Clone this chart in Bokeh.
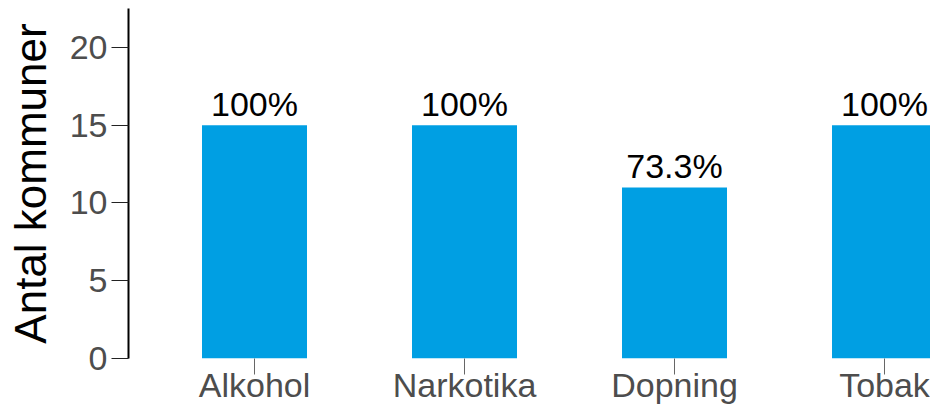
from bokeh.plotting import figure
from bokeh.models import ColumnDataSource, Range1d, FixedTicker
from bokeh.core.properties import value
from bokeh.embed import file_html
from bokeh.resources import INLINE

categories = ["Alkohol", "Narkotika", "Dopning", "Tobak"]
counts = [15, 15, 11, 15]
pct_labels = ["100%", "100%", "73.3%", "100%"]
y_ticks = [0, 5, 10, 15, 20]

xs = list(range(len(categories)))
src = ColumnDataSource(dict(x=xs, top=counts, label=pct_labels))

FONT = "Liberation Sans"

p = figure(width=930, height=406, output_backend="svg", toolbar_location=None,
           x_range=Range1d(-0.6, 3.219), y_range=Range1d(0, 22.5),
           min_border_left=128, min_border_right=0, min_border_top=8, min_border_bottom=48)
p.outline_line_color = None
p.grid.visible = False
p.background_fill_color = "white"

p.vbar(x="x", top="top", width=0.5, bottom=0, source=src, fill_color="#009FE3", line_color=None)
p.text(x="x", y="top", text="label", source=src, text_align="center", text_baseline="bottom",
       y_offset=-2, text_font=value(FONT), text_font_size="34px", text_color="black")

# y axis
ya = p.yaxis[0]
ya.ticker = FixedTicker(ticks=y_ticks)
ya.minor_tick_line_color = None
ya.major_tick_in = 0
ya.major_tick_out = 17
ya.major_tick_line_color = "#222222"
ya.axis_line_color = "black"
ya.axis_line_width = 2
ya.major_label_text_font = FONT
ya.major_label_text_font_size = "34px"
ya.major_label_text_color = "#4D4D4D"
ya.major_label_standoff = 4
ya.axis_label = "Antal kommuner"
ya.axis_label_text_font = FONT
ya.axis_label_text_font_size = "44px"
ya.axis_label_text_font_style = "normal"
ya.axis_label_text_color = "black"
ya.axis_label_standoff = 12

# x axis
xa = p.xaxis[0]
xa.ticker = FixedTicker(ticks=xs)
xa.major_label_overrides = {i: c for i, c in zip(xs, categories)}
xa.minor_tick_line_color = None
xa.axis_line_color = None
xa.major_tick_in = 0
xa.major_tick_out = 16
xa.major_tick_line_color = "#666666"
xa.major_label_text_font = FONT
xa.major_label_text_font_size = "34px"
xa.major_label_text_color = "#4D4D4D"
xa.major_label_standoff = -9

open("out.html", "w").write(file_html(p, INLINE))
